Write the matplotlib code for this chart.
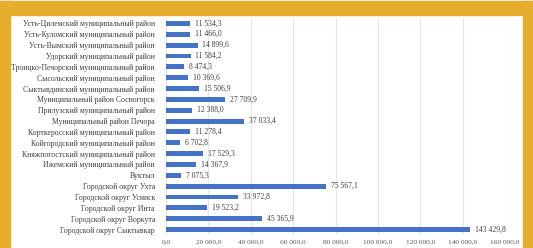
import matplotlib
matplotlib.use("Agg")
import matplotlib.pyplot as plt
from matplotlib.patches import Rectangle
from matplotlib.ticker import FuncFormatter

# districts, top to bottom as shown on the chart
districts = [
    "Усть-Цилемский муниципальный район",
    "Усть-Куломский муниципальный район",
    "Усть-Вымский муниципальный район",
    "Удорский муниципальный район",
    "Троицко-Печорский муниципальный район",
    "Сысольский муниципальный район",
    "Сыктывдинский муниципальный район",
    "Муниципальный район Сосногорск",
    "Прилузский муниципальный район",
    "Муниципальный район Печора",
    "Корткеросский муниципальный район",
    "Койгородский муниципальный район",
    "Княжпогостский муниципальный район",
    "Ижемский муниципальный район",
    "Вуктыл",
    "Городской округ Ухта",
    "Городской округ Усинск",
    "Городской округ Инта",
    "Городской округ Воркута",
    "Городской округ Сыктывкар",
]
values = [
    11534.3, 11466.0, 14899.6, 11584.2, 8474.3,
    10369.6, 15506.9, 27709.9, 12388.0, 37033.4,
    11278.4, 6702.8, 17529.3, 14367.9, 7075.3,
    75567.1, 33972.8, 19523.2, 45365.9, 143429.8,
]
x_ticks = [0, 20000, 40000, 60000, 80000, 100000, 120000, 140000, 160000]


def ru_fmt(v):
    s = "{:,.1f}".format(v)
    return s.replace(",", " ").replace(".", ",")


plt.rcParams['font.family'] = ['Liberation Serif', 'DejaVu Serif']

fig = plt.figure(figsize=(5.33, 2.48), dpi=100)
fig.patch.set_facecolor("white")

gold = "#E6AE2C"
# frame around the picture
fig.patches.append(Rectangle((0, 1 - 15 / 248), 1, 14 / 248, transform=fig.transFigure,
                             color=gold, zorder=5))
fig.patches.append(Rectangle((0, 0), 10 / 533, 1 - 1 / 248, transform=fig.transFigure,
                             color=gold, zorder=5))
fig.patches.append(Rectangle((523 / 533, 0), 10 / 533, 1 - 1 / 248, transform=fig.transFigure,
                             color=gold, zorder=5))

ax = fig.add_axes([166 / 533, 1 - 235 / 248, (505 - 166) / 533, 217 / 248])
ax.set_facecolor("none")

ypos = list(range(len(districts)))
ax.barh(ypos, values, height=0.45, color="#4472C4", zorder=3)
for y, v in zip(ypos, values):
    ax.text(v + 2300, y, ru_fmt(v), va="center", ha="left",
            fontsize=5.5, color="#404040")

ax.set_ylim(len(districts) - 0.5, -0.5)
ax.set_xlim(0, 160000)
ax.set_yticks(ypos)
ax.set_yticklabels(districts, fontsize=5.6, color="#404040")
ax.set_xticks(x_ticks)
ax.xaxis.set_major_formatter(FuncFormatter(lambda v, p: ru_fmt(v)))
ax.tick_params(axis="x", labelsize=5.3, labelcolor="#595959", length=0, pad=3)
ax.tick_params(axis="y", length=0, pad=8)
ax.grid(axis="x", color="#E6E6E6", linewidth=0.8, zorder=0)
for s in ax.spines.values():
    s.set_visible(False)

fig.savefig("out.png", dpi=100)
